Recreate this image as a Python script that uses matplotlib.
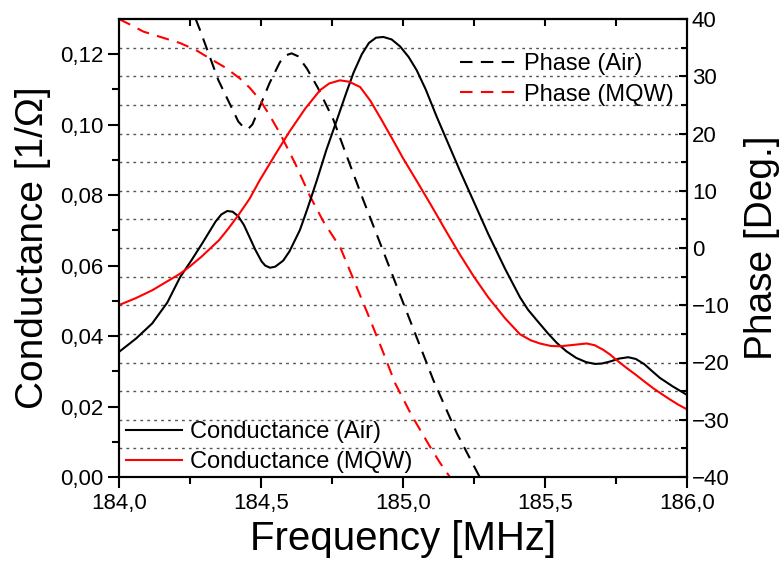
import numpy as np
import matplotlib
matplotlib.use('Agg')
import matplotlib.pyplot as plt

plt.rcParams['font.family'] = ['Liberation Sans', 'DejaVu Sans']

# conductance, Air (black solid)
f_g_air = [184.00, 184.06, 184.117, 184.17, 184.215, 184.255, 184.293, 184.34, 184.36,
           184.381, 184.40, 184.42, 184.44, 184.467, 184.48, 184.502, 184.515, 184.532,
           184.55, 184.578, 184.60, 184.637, 184.665, 184.697, 184.73, 184.767, 184.80,
           184.826, 184.855, 184.88, 184.905, 184.931, 184.96, 184.99, 185.02, 185.048,
           185.08, 185.119, 185.16, 185.20, 185.25, 185.30, 185.36, 185.412, 185.44,
           185.471, 185.51, 185.541, 185.575, 185.61, 185.645, 185.676, 185.70, 185.73,
           185.76, 185.793, 185.82, 185.85, 185.875, 185.905, 185.95, 186.0]
g_air = [0.0355, 0.0393, 0.0436, 0.0495, 0.0567, 0.0615, 0.0663, 0.0725, 0.0745,
         0.0755, 0.0753, 0.0740, 0.0715, 0.0668, 0.0645, 0.0612, 0.0600, 0.0594,
         0.0597, 0.0614, 0.0640, 0.0701, 0.0765, 0.0843, 0.0928, 0.1013, 0.1090,
         0.1148, 0.1200, 0.1232, 0.1247, 0.1249, 0.1242, 0.1222, 0.1192, 0.1155,
         0.1100, 0.1022, 0.0945, 0.0870, 0.0780, 0.0690, 0.0590, 0.0510, 0.0475,
         0.0445, 0.0408, 0.0381, 0.0357, 0.0338, 0.0326, 0.0321, 0.0322, 0.0328,
         0.0336, 0.0340, 0.0335, 0.0320, 0.0302, 0.0281, 0.0257, 0.0233]

# conductance, MQW (red solid)
f_g_mqw = [184.00, 184.06, 184.117, 184.165, 184.215, 184.25, 184.29, 184.352, 184.385,
           184.42, 184.46, 184.496, 184.55, 184.60, 184.655, 184.708, 184.74, 184.778,
           184.81, 184.849, 184.885, 184.925, 184.96, 185.0, 185.05, 185.1, 185.15,
           185.2, 185.25, 185.3, 185.36, 185.412, 185.45, 185.482, 185.52, 185.553,
           185.60, 185.647, 185.675, 185.705, 185.73, 185.752, 185.785, 185.82, 185.85,
           185.881, 185.91, 185.94, 185.97, 186.0]
g_mqw = [0.0488, 0.0508, 0.0530, 0.0553, 0.0577, 0.0598, 0.0625, 0.0672, 0.0705,
         0.0743, 0.0790, 0.0843, 0.0915, 0.0980, 0.1045, 0.1098, 0.1117, 0.1126,
         0.1122, 0.1107, 0.1068, 0.1013, 0.0963, 0.0905, 0.0838, 0.0770, 0.0700,
         0.0632, 0.0568, 0.0510, 0.0450, 0.0405, 0.0388, 0.0379, 0.0372, 0.0371,
         0.0375, 0.0379, 0.0374, 0.0361, 0.0347, 0.0332, 0.0311, 0.0290, 0.0271,
         0.0252, 0.0236, 0.0220, 0.0205, 0.0192]

# phase, Air (black dashed)
f_p_air = [184.27, 184.285, 184.35, 184.42, 184.44, 184.455, 184.47, 184.496, 184.53,
           184.567, 184.59, 184.608, 184.63, 184.661, 184.70, 184.755, 184.80, 184.86,
           184.926, 185.0, 185.107, 185.19, 185.27]
p_air = [40.0, 38.1, 29.3, 22.1, 21.0, 20.8, 21.6, 24.7, 28.8,
         32.5, 33.7, 34.0, 33.5, 31.4, 28.0, 22.4, 16.3, 8.4,
         0.0, -9.5, -23.1, -32.4, -40.0]

# phase, MQW (red dashed)
f_p_mqw = [184.0, 184.04, 184.086, 184.15, 184.215, 184.27, 184.32, 184.375, 184.426,
           184.46, 184.496, 184.53, 184.567, 184.62, 184.673, 184.72, 184.78, 184.83,
           184.88, 184.93, 184.972, 185.03, 185.095, 185.13, 185.165]
p_mqw = [40.0, 39.0, 37.8, 36.8, 35.8, 34.6, 33.1, 31.5, 29.6,
         28.0, 25.9, 23.2, 20.0, 14.8, 9.0, 4.6, 0.0, -6.0,
         -12.0, -18.2, -23.6, -29.2, -34.7, -37.5, -40.0]

x_ticks = [184.0, 184.5, 185.0, 185.5, 186.0]
x_labels = ['184,0', '184,5', '185,0', '185,5', '186,0']
g_ticks = [0.0, 0.02, 0.04, 0.06, 0.08, 0.10, 0.12]
g_labels = ['0,00', '0,02', '0,04', '0,06', '0,08', '0,10', '0,12']
p_ticks = [-40, -30, -20, -10, 0, 10, 20, 30, 40]
grid_levels = [-35, -30, -25, -20, -15, -10, -5, 0, 5, 10, 15, 20, 25, 30, 35]

fig = plt.figure(figsize=(7.84, 5.72), dpi=100)
ax = fig.add_axes([119/784, 1-477/572, 568/784, 458/572])
ax2 = ax.twinx()

for lv in grid_levels:
    ax2.axhline(lv, color='#555555', lw=1.0, ls=(0, (2, 3)), zorder=0)

dash = (0, (6, 4))
ax2.plot(f_p_air, p_air, color='black', lw=1.5, ls=dash, label='Phase (Air)')
ax2.plot(f_p_mqw, p_mqw, color='#ff0000', lw=1.5, ls=dash, label='Phase (MQW)')
ax.plot(f_g_air, g_air, color='black', lw=1.5, label='Conductance (Air)')
ax.plot(f_g_mqw, g_mqw, color='#ff0000', lw=1.5, label='Conductance (MQW)')
ax.set_zorder(ax2.get_zorder() + 1)
ax.patch.set_visible(False)

ax.set_xlim(184.0, 186.0)
ax.set_ylim(0, 0.13)
ax2.set_ylim(-40, 40)

ax.set_xticks(x_ticks)
ax.set_xticklabels(x_labels)
ax.set_xticks(np.arange(184.25, 186.0, 0.5), minor=True)
ax.set_yticks(g_ticks)
ax.set_yticklabels(g_labels)
ax.set_yticks(np.arange(0.01, 0.13, 0.02), minor=True)
ax2.set_yticks(p_ticks)
ax2.set_yticks(np.arange(-35, 40, 10), minor=True)

ax.tick_params(which='major', direction='out', length=8, width=1.5, labelsize=16)
ax.tick_params(which='minor', direction='out', length=5, width=1.5)
ax2.tick_params(which='major', direction='in', length=6, width=1.5, labelsize=16)
ax2.tick_params(which='minor', direction='in', length=4, width=1.5)

top = ax.secondary_xaxis('top')
top.set_xticks(np.arange(184.25, 186.0, 0.25))
top.tick_params(direction='in', length=5, width=1.5, labeltop=False)
top.spines['top'].set_linewidth(1.5)

for a in (ax, ax2):
    for s in a.spines.values():
        s.set_linewidth(1.5)

ax.set_xlabel('Frequency [MHz]', fontsize=29, labelpad=4)
ax.set_ylabel('Conductance [1/\u03a9]', fontsize=28, labelpad=6)
ax2.set_ylabel('Phase [Deg.]', fontsize=28, labelpad=10)

ax.legend(loc='lower left', bbox_to_anchor=(0.012, 0.008), frameon=False, fontsize=17,
          handlelength=2.4, handletextpad=0.3, labelspacing=0.35, borderpad=0, borderaxespad=0)
ax2.legend(loc='upper left', bbox_to_anchor=(0.6, 0.925), frameon=False, fontsize=17,
           handlelength=2.4, handletextpad=0.3, labelspacing=0.35, borderpad=0, borderaxespad=0)

plt.savefig('out.png', dpi=100)
